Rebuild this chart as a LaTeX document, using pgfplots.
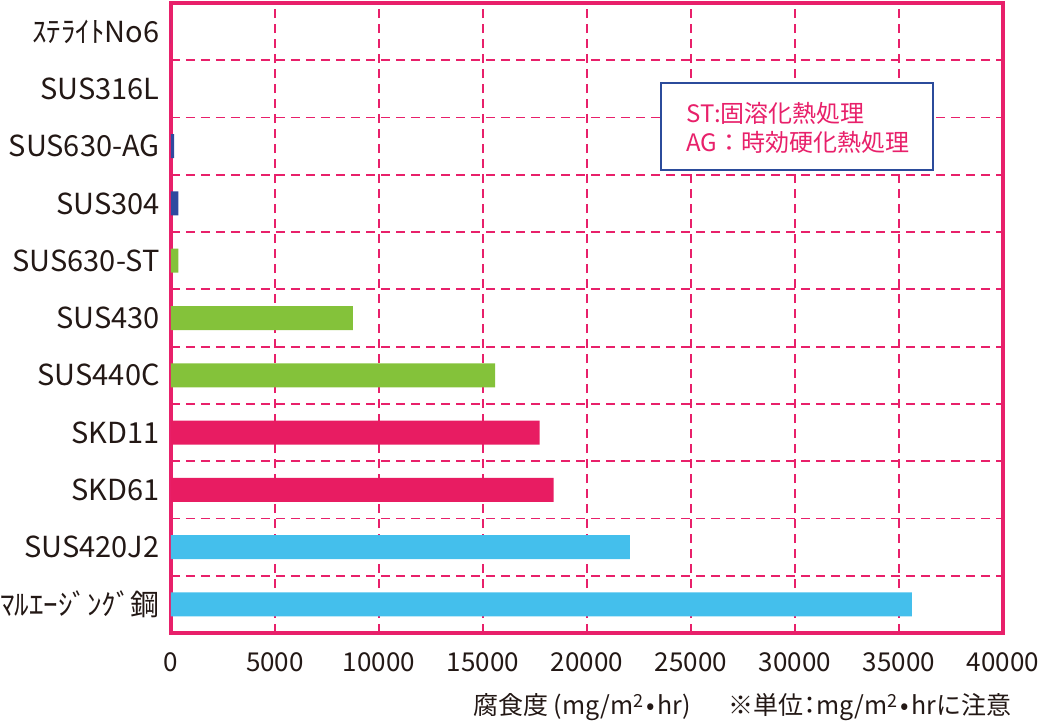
\documentclass[border=0pt]{standalone}
\usepackage{fontspec}
\setmainfont{Noto Sans CJK JP}
\usepackage{pgfplots}
\pgfplotsset{compat=1.18}
\definecolor{fr}{HTML}{E8206A}
\definecolor{bblue}{HTML}{2E4A9F}
\definecolor{bgreen}{HTML}{84C23A}
\definecolor{bpink}{HTML}{E81C62}
\definecolor{bcyan}{HTML}{44BFEC}
\definecolor{txt}{HTML}{231815}
\definecolor{lgb}{HTML}{2B4B9B}
\begin{document}
\begin{tikzpicture}[x=0.5pt,y=0.5pt]
\useasboundingbox (0,0) rectangle (1041,720);
\begin{axis}[
  at={(85.5pt,43.5pt)}, anchor=south west,
  scale only axis, width=416pt, height=315pt,
  xbar, bar width=12pt,
  xmin=0, xmax=40000, ymin=-0.5, ymax=10.5,
  xtick={0,5000,...,40000},
  ytick={0,...,10},
  yticklabels={ﾏﾙｴｰｼﾞﾝｸﾞ鋼,SUS420J2,SKD61,SKD11,SUS440C,SUS430,SUS630-ST,SUS304,SUS630-AG,SUS316L,ｽﾃﾗｲﾄNo6},
  minor ytick={0.5,1.5,...,9.5},
  xmajorgrids, yminorgrids,
  major tick length=0pt, minor tick length=0pt,
  major grid style={fr, line width=0.9pt, dash pattern=on 4.5pt off 3pt},
  minor grid style={fr, line width=0.9pt, dash pattern=on 4.5pt off 3pt},
  axis line style={fr, line width=1.8pt},
  scaled x ticks=false,
  xticklabel style={/pgf/number format/1000 sep={}, /pgf/number format/assume math mode=true,
    font=\fontsize{13}{13}\selectfont, text=txt, anchor=base, inner sep=0pt, yshift=-19pt},
  yticklabel style={font=\fontsize{14.5}{14.5}\selectfont, text=txt, anchor=east, inner sep=0pt, xshift=-5.5pt},
]
\addplot[draw=none, fill=bblue, bar shift=0pt] coordinates {(0,10) (0,9) (150,8) (350,7)};
\addplot[draw=none, fill=bgreen, bar shift=0pt] coordinates {(350,6) (8750,5) (15580,4)};
\addplot[draw=none, fill=bpink, bar shift=0pt] coordinates {(17720,3) (18390,2)};
\addplot[draw=none, fill=bcyan, bar shift=0pt] coordinates {(22060,1) (35620,0)};
\end{axis}
\draw[lgb, line width=1pt, fill=white] (661,550) rectangle (933,637);
\node[anchor=west, inner sep=0pt, text=fr, font=\fontsize{12}{12}\selectfont] at (686,607) {ST:固溶化熱処理};
\node[anchor=west, inner sep=0pt, text=fr, font=\fontsize{12}{12}\selectfont] at (686,578) {AG：時効硬化熱処理};
\node[anchor=base, inner sep=0pt, text=txt, font=\fontsize{12.5}{12.5}\selectfont] at (582,6) {腐食度 (mg/m\raisebox{0.45ex}{\fontsize{9}{9}\selectfont 2}\kern0.1em•\kern0.1em hr)};
\node[anchor=base, inner sep=0pt, text=txt, font=\fontsize{12.5}{12.5}\selectfont] at (870,6) {※単位\kern-0.25em：\kern-0.25em mg/m\raisebox{0.45ex}{\fontsize{9}{9}\selectfont 2}\kern0.1em•\kern0.1em hrに注意};
\end{tikzpicture}
\end{document}
